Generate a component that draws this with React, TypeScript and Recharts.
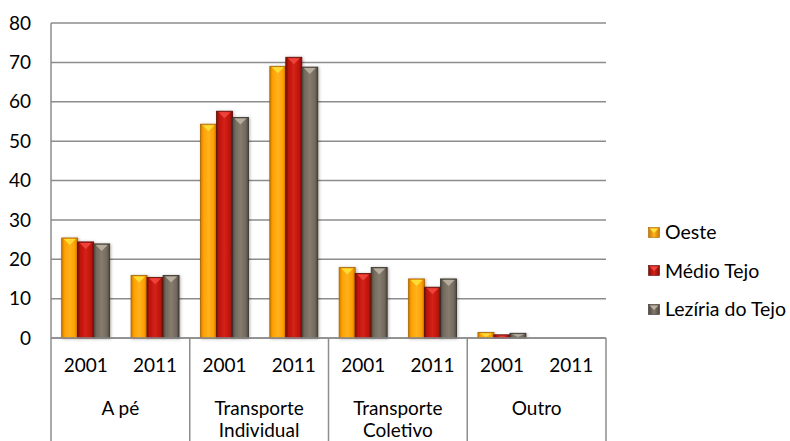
import React from 'react';
import { Bar, BarChart, CartesianGrid, XAxis, YAxis } from 'recharts';

// Categorias (dois niveis) e valores (%)
const anos = ['2001', '2011', '2001', '2011', '2001', '2011', '2001', '2011'];
const grupos = [
  'A pé',
  'A pé',
  'Transporte Individual',
  'Transporte Individual',
  'Transporte Coletivo',
  'Transporte Coletivo',
  'Outro',
  'Outro',
];
const oeste = [25.4, 15.9, 54.3, 69.0, 17.9, 15.0, 1.4, 0];
const medioTejo = [24.4, 15.4, 57.6, 71.3, 16.4, 12.9, 0.8, 0];
const leziria = [23.9, 15.9, 56.0, 68.8, 17.9, 15.0, 1.2, 0];
const yTicks = [0, 10, 20, 30, 40, 50, 60, 70, 80];

const dados = anos.map((ano, i) => ({
  ano,
  grupo: grupos[i],
  oeste: oeste[i],
  medio: medioTejo[i],
  leziria: leziria[i],
}));

const W = 790;
const H = 441;
const MARGEM = { top: 23, right: 184, left: 0, bottom: 0 };
const Y_LARG = 51;
const ANO_ALT = 50;
const GRUPO_ALT = 53;
const LARG_GRUPO = (W - MARGEM.right - Y_LARG) / 4;
const GRELHA = '#8C8C8C';
const FONTE = 'Lato, "Open Sans", sans-serif';
const TAM = 19;

const SERIES = [
  { key: 'oeste', nome: 'Oeste', id: 'oe', claro: '#FFB21E', base: '#FFA000', borda: '#C97700', topo: '#FFE23A', contorno: '#A86400' },
  { key: 'medio', nome: 'Médio Tejo', id: 'mt', claro: '#D42218', base: '#BE140C', borda: '#850C06', topo: '#F2473F', contorno: '#5E0804' },
  { key: 'leziria', nome: 'Lezíria do Tejo', id: 'lt', claro: '#857C6E', base: '#746B5E', borda: '#4D463D', topo: '#BDB3A4', contorno: '#35302A' },
];

function fazForma(s: (typeof SERIES)[number]) {
  return (props: any) => {
    const { x, y, width, height } = props;
    if (!height || height <= 0.5) return <g />;
    const th = Math.min(6, Math.max(0, height - 2));
    return (
      <g filter="url(#sombra)">
        <rect x={x} y={y} width={width} height={height} fill={`url(#g-${s.id})`} stroke={s.contorno} strokeWidth={0.8} />
        {th > 1 && (
          <polygon
            points={`${x + 2},${y + 1} ${x + width - 2},${y + 1} ${x + width / 2},${y + 1 + th}`}
            fill={s.topo}
            opacity={0.9}
          />
        )}
      </g>
    );
  };
}

function TickAno(props: any) {
  const { x, y, payload } = props;
  return (
    <text x={x} y={y + 27} dy="0.355em" textAnchor="middle" fill="#000" fontSize={TAM} fontFamily={FONTE}>
      {payload.value}
    </text>
  );
}

function TickGrupo(props: any) {
  const { x, y, payload, index } = props;
  const nome: string = payload.value;
  const linhas = nome.length > 12 ? nome.split(' ') : [nome];
  const topo = y - ANO_ALT;
  return (
    <g>
      <line x1={x - LARG_GRUPO / 2} x2={x - LARG_GRUPO / 2} y1={topo} y2={H} stroke={GRELHA} strokeWidth={1.5} />
      {index === 3 && (
        <line x1={x + LARG_GRUPO / 2} x2={x + LARG_GRUPO / 2} y1={topo} y2={H} stroke={GRELHA} strokeWidth={1.5} />
      )}
      {linhas.map((l, i) => (
        <text key={l} x={x} y={y + 20 + i * 22} dy="0.355em" textAnchor="middle" fill="#000" fontSize={TAM} fontFamily={FONTE}>
          {l}
        </text>
      ))}
    </g>
  );
}

function Marcador({ s }: { s: (typeof SERIES)[number] }) {
  return (
    <svg width={12} height={11} style={{ display: 'block' }}>
      <defs>
        <linearGradient id={`lg-${s.id}`} x1="0" y1="0" x2="1" y2="0">
          <stop offset="0" stopColor={s.borda} />
          <stop offset="0.5" stopColor={s.claro} />
          <stop offset="1" stopColor={s.borda} />
        </linearGradient>
      </defs>
      <rect x={0.5} y={0.5} width={11} height={10} fill={`url(#lg-${s.id})`} stroke={s.contorno} strokeWidth={0.6} />
      <polygon points="1.5,1.5 10.5,1.5 6,6" fill={s.topo} />
    </svg>
  );
}

function Legenda() {
  return (
    <div style={{ position: 'absolute', left: 648, top: 213, fontFamily: FONTE, fontSize: 19.5, color: '#000' }}>
      {SERIES.map((s) => (
        <div key={s.key} style={{ display: 'flex', alignItems: 'center', height: 38.5 }}>
          <Marcador s={s} />
          <span style={{ marginLeft: 5, lineHeight: '20px', whiteSpace: 'nowrap' }}>{s.nome}</span>
        </div>
      ))}
    </div>
  );
}

export default function App() {
  return (
    <div style={{ position: 'absolute', left: 0, top: 0, width: W, height: H, background: '#fff', fontFamily: FONTE }}>
      <BarChart width={W} height={H} data={dados} margin={MARGEM} barCategoryGap="15.4%" barGap={0}>
        <defs>
          {SERIES.map((s) => (
            <linearGradient key={s.id} id={`g-${s.id}`} x1="0" y1="0" x2="1" y2="0">
              <stop offset="0" stopColor={s.borda} />
              <stop offset="0.18" stopColor={s.base} />
              <stop offset="0.5" stopColor={s.claro} />
              <stop offset="0.82" stopColor={s.base} />
              <stop offset="1" stopColor={s.borda} />
            </linearGradient>
          ))}
          <filter id="sombra" x="-30%" y="-10%" width="160%" height="120%">
            <feDropShadow dx="1" dy="0.5" stdDeviation="1.5" floodColor="#000" floodOpacity="0.3" />
          </filter>
        </defs>
        <CartesianGrid vertical={false} stroke={GRELHA} strokeWidth={1.5} />
        <XAxis
          dataKey="ano"
          height={ANO_ALT}
          axisLine={{ stroke: GRELHA, strokeWidth: 1.5 }}
          tickLine={false}
          tickSize={0}
          tickMargin={0}
          interval={0}
          tick={<TickAno />}
        />
        <XAxis
          xAxisId="g"
          dataKey="grupo"
          allowDuplicatedCategory={false}
          height={GRUPO_ALT}
          axisLine={false}
          tickLine={false}
          tickSize={0}
          tickMargin={0}
          interval={0}
          tick={<TickGrupo />}
        />
        <YAxis
          width={Y_LARG}
          domain={[0, 80]}
          ticks={yTicks}
          interval={0}
          axisLine={{ stroke: GRELHA, strokeWidth: 1.5 }}
          tickLine={false}
          tickSize={0}
          tickMargin={20}
          tick={{ fontSize: TAM, fill: '#000', fontFamily: FONTE }}
        />
        {SERIES.map((s) => (
          <Bar key={s.key} dataKey={s.key} name={s.nome} fill={s.base} shape={fazForma(s)} isAnimationActive={false} />
        ))}
      </BarChart>
      <Legenda />
    </div>
  );
}
